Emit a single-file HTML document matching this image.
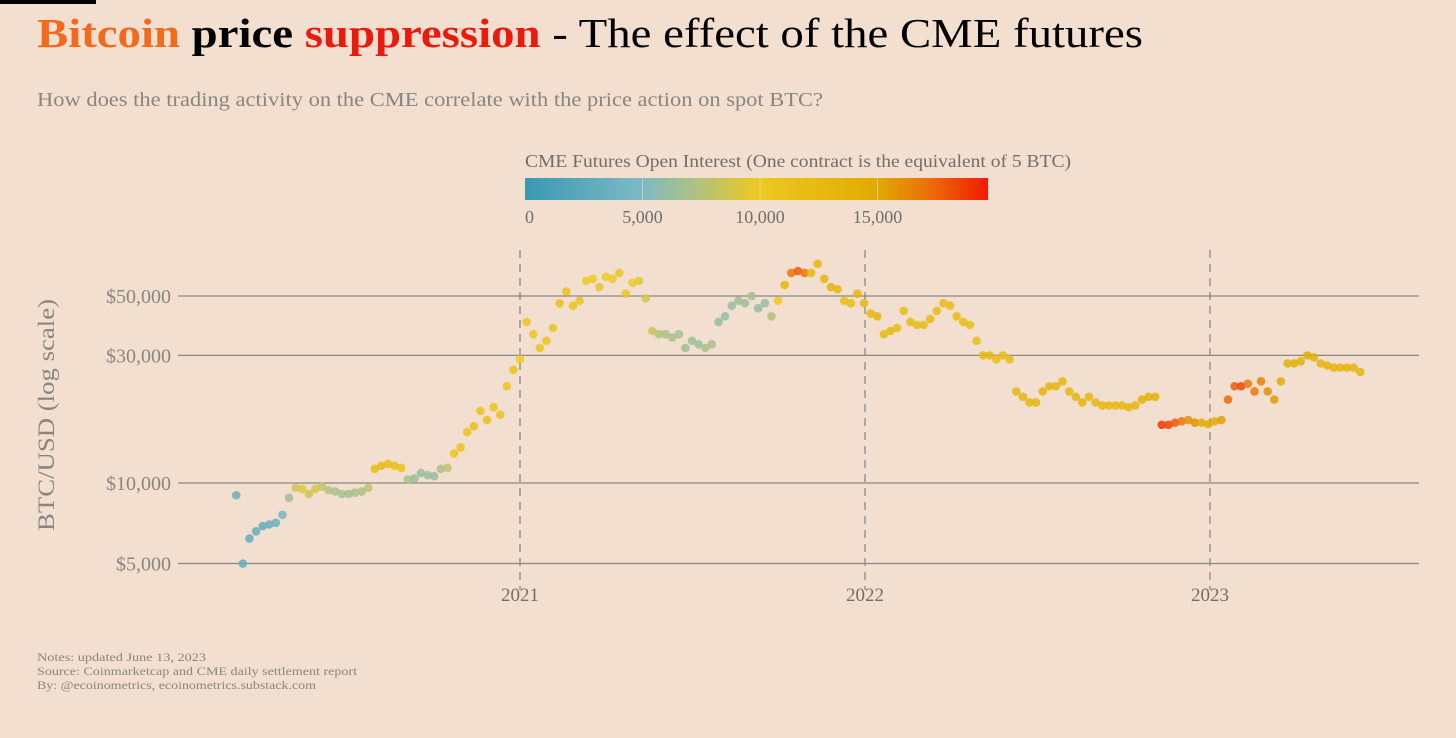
<!DOCTYPE html>
<html><head><meta charset="utf-8"><style>
body{margin:0;background:#f3dfcf;width:1456px;height:733px;overflow:hidden;font-family:"Liberation Serif",serif;}
</style></head><body>
<svg width="1456" height="733" xmlns="http://www.w3.org/2000/svg">
<rect x="0" y="0" width="1456" height="733" fill="#f3dfcf"/>
<rect x="0" y="0" width="96" height="4" fill="#000"/>
<text x="37" y="47" font-size="41" fill="#000" textLength="1106" lengthAdjust="spacingAndGlyphs"><tspan fill="#f26a1b" font-weight="bold">Bitcoin</tspan> <tspan font-weight="bold">price</tspan> <tspan fill="#ea1b0c" font-weight="bold">suppression</tspan> - The effect of the CME futures</text>
<text x="37" y="106" font-size="20" fill="#8a8580" textLength="786" lengthAdjust="spacingAndGlyphs">How does the trading activity on the CME correlate with the price action on spot BTC?</text>
<text x="525" y="167" font-size="18" fill="#736e6a" textLength="546" lengthAdjust="spacingAndGlyphs">CME Futures Open Interest (One contract is the equivalent of 5 BTC)</text>
<defs><linearGradient id="cg" x1="0" x2="1" y1="0" y2="0">
<stop offset="0" stop-color="#3a98b4"/><stop offset="0.25" stop-color="#7db9c4"/><stop offset="0.38" stop-color="#b3c27a"/><stop offset="0.5" stop-color="#ecc922"/><stop offset="0.76" stop-color="#e0ab00"/><stop offset="0.88" stop-color="#ec6a0a"/><stop offset="1" stop-color="#f21a00"/></linearGradient></defs>
<rect x="525" y="178" width="463" height="22" fill="url(#cg)"/>
<g id="cbt" font-size="18" fill="#736e6a"></g>
<g id="grid"></g><g id="pts"></g>
<text transform="translate(54,415) rotate(-90)" text-anchor="middle" font-size="23" fill="#8a8580" textLength="232" lengthAdjust="spacingAndGlyphs">BTC/USD (log scale)</text>
<text x="37" y="661" font-size="12" fill="#8a8580" textLength="169" lengthAdjust="spacingAndGlyphs">Notes: updated June 13, 2023</text>
<text x="37" y="675" font-size="12" fill="#8a8580" textLength="320" lengthAdjust="spacingAndGlyphs">Source: Coinmarketcap and CME daily settlement report</text>
<text x="37" y="689" font-size="12" fill="#8a8580" textLength="279" lengthAdjust="spacingAndGlyphs">By: @ecoinometrics, ecoinometrics.substack.com</text>
</svg>
<script>
const startDate = "2020-03-06";
const prices = [9.0,5.0,6.2,6.6,6.9,7.0,7.1,7.6,8.8,9.6,9.5,9.1,9.5,9.7,9.4,9.3,9.1,9.1,9.2,9.3,9.6,11.3,11.6,11.8,11.6,11.4,10.3,10.4,10.9,10.7,10.6,11.3,11.4,12.9,13.6,15.5,16.3,18.6,17.2,19.2,18.0,23.0,26.5,
29,40,36,32,34,38,47,52,46,48,57,58,54,59,58,61,51,56,57,49,37,36,36,35,36,32,34,33,32,33,40,42,46,48,47,50,45,47,42,48,55,61,62,61,61,66,58,54,53,48,47,51,47,
43,42,36,37,38,44,40,39,39,41,44,47,46,42,40,39,34,30,30,29,30,29,22,21,20,20,22,23,23,24,22,21,20,21,20,19.5,19.5,19.5,19.5,19.2,19.5,20.5,21,21,16.5,16.5,16.8,17,17.2,16.8,16.8,16.6,
17,17.2,20.5,23,23,23.5,22,24,22,20.5,24,28,28,28.5,30,29.5,28,27.5,27,27,27,27,26];
const openInterest = [3.5,3.0,3.0,3.2,3.3,3.4,3.5,4.5,6.5,8.5,9.5,8.5,9.0,8.0,7.5,7.0,7.0,6.8,7.0,7.2,8.0,12.0,12.5,12.0,11.5,11.0,7.0,6.5,6.0,6.5,6.2,7.0,8.0,10.5,11.0,11.0,11.5,11.0,11.5,11.0,11.0,10.5,10.5,
10,10.5,10.5,10.5,11,11,11,11.5,11,10.5,10,10,9.5,10,10,10.5,10.5,10,9.5,9,8.5,7.5,7,7,7,6.5,6.5,6.5,7,7,6,6,6,6.5,6.5,7,6,6,7.5,10,13,17,18,17,13,13,13.5,13.5,13,12,12,13,13,
13,13,12.5,12.5,12,12,12,12,12,12,12,12,12,12,12,12,12,12.5,12.5,12,12,12,13,13,13,13,13.5,13,13,13,13,13.5,13.5,13,13,13,13,13,13,13,13.5,14,14,14,19,18.5,18,17,16,16,15,15,
15,15.5,17.5,18,18.5,17,17,16.5,16,15.5,14.5,14,14,14,14.5,14,13.5,13.5,13.5,13.5,13.5,13.5,13.5];
const yTicks = [5000,10000,30000,50000];
const yTickLabels = ["$5,000","$10,000","$30,000","$50,000"];
const xTicks = [2021,2022,2023];
const cbTicks = [0,5000,10000,15000];
const cbTickLabels = ["0","5,000","10,000","15,000"];

const NS="http://www.w3.org/2000/svg";
const xScale = yr => 520 + (yr-2021)*345;
const yScale = p => 483 - (Math.log10(p)-4)*267.5;
const cbScale = v => 525 + v/5000*117.5;
const stops=[[0,[58,152,180]],[5000,[125,185,196]],[7500,[179,194,122]],[10000,[236,201,34]],[15000,[224,171,0]],[17500,[236,106,10]],[19800,[242,26,0]]];
function col(v){v=Math.max(0,Math.min(19800,v));for(let i=1;i<stops.length;i++){if(v<=stops[i][0]){const a=stops[i-1],b=stops[i],t=(v-a[0])/(b[0]-a[0]);return "rgb("+a[1].map((c,k)=>Math.round(c+(b[1][k]-c)*t)).join(",")+")";}}return "rgb(242,26,0)";}
function mk(t,attrs,parent){const e=document.createElementNS(NS,t);for(const k in attrs)e.setAttribute(k,attrs[k]);parent.appendChild(e);return e;}
const grid=document.getElementById("grid"),pts=document.getElementById("pts"),cbt=document.getElementById("cbt");
cbTicks.forEach((v,i)=>{
 const t=mk("text",{x:cbScale(v),y:223,"text-anchor":i==0?"start":"middle"},cbt);t.textContent=cbTickLabels[i];
 
 
 if(i>0){const l=mk("line",{x1:cbScale(v),x2:cbScale(v),y1:178,y2:200,stroke:"#f3dfcf","stroke-width":1,opacity:0.6},cbt);
 
 }
});
yTicks.forEach((v,i)=>{
 const y=yScale(v);
 const l=mk("line",{x1:178,x2:1419,y1:y,y2:y,stroke:"#8c8784","stroke-width":1.3},grid);
 
 
 const t=mk("text",{x:171,y:y+7,"text-anchor":"end","font-size":20,fill:"#8a8580"},grid);t.textContent=yTickLabels[i];
 
 
});
xTicks.forEach(v=>{
 const x=xScale(v);
 const l=mk("line",{x1:x,x2:x,y1:250,y2:590,stroke:"#8c8784","stroke-width":1.3,"stroke-dasharray":"8,6"},grid);
 
 
 const t=mk("text",{x:x,y:601,"text-anchor":"middle","font-size":19,fill:"#736e6a"},grid);t.textContent=String(v);
 
 
});
const d0=new Date(startDate+"T00:00:00Z").getTime();
prices.forEach((p,i)=>{
 const d=new Date(d0+i*7*86400000);const y0=Date.UTC(d.getUTCFullYear(),0,1),y1=Date.UTC(d.getUTCFullYear()+1,0,1);
 const yr=d.getUTCFullYear()+(d-y0)/(y1-y0);
 const c=mk("circle",{cx:xScale(yr),cy:yScale(p*1000),r:4.3,fill:col(openInterest[i]*1000),"fill-opacity":0.85},pts);
 
 
});
</script>
</body></html>
